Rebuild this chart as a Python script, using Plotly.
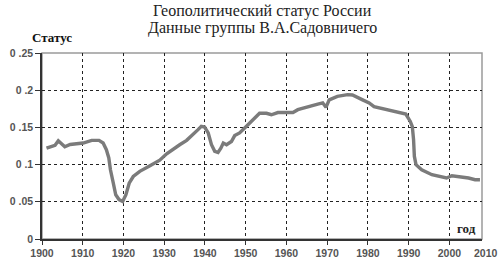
import plotly.graph_objects as go

# Data
years = [1901.1, 1902.4, 1903.2, 1904.0, 1904.8, 1905.6, 1906.9, 1910.1, 1912.2, 1914.0,
         1915.0, 1915.8, 1916.4, 1916.8, 1917.5, 1918.1, 1918.9, 1919.8, 1920.6, 1921.4,
         1922.4, 1924.0, 1926.5, 1928.9, 1930.6, 1932.2, 1933.8, 1935.5, 1937.1, 1938.3,
         1939.1, 1939.9, 1940.8, 1941.6, 1942.4, 1943.2, 1943.9, 1944.5, 1945.3, 1946.5,
         1947.3, 1948.5, 1950.0, 1951.4, 1953.4, 1955.1, 1956.3, 1957.9, 1961.6, 1962.8,
         1965.2, 1967.7, 1968.9, 1969.7, 1970.5, 1972.5, 1975.0, 1976.2, 1978.7, 1980.3,
         1981.5, 1984.0, 1987.3, 1989.3, 1990.4, 1990.9, 1991.2, 1991.4, 1991.8, 1993.2,
         1995.7, 1997.7, 1999.3, 2000.6, 2002.2, 2004.7, 2006.3, 2007.5]
status = [0.122, 0.125, 0.126, 0.132, 0.128, 0.124, 0.127, 0.129, 0.1326, 0.1326,
          0.129, 0.120, 0.109, 0.093, 0.075, 0.0595, 0.053, 0.0505, 0.0595, 0.075,
          0.084, 0.091, 0.0985, 0.106, 0.1146, 0.120, 0.1267, 0.1326, 0.140, 0.147,
          0.1514, 0.1505, 0.1425, 0.1267, 0.1178, 0.1164, 0.122, 0.129, 0.1267, 0.131,
          0.139, 0.1425, 0.1505, 0.158, 0.169, 0.169, 0.167, 0.170, 0.170, 0.1738,
          0.178, 0.1814, 0.183, 0.177, 0.187, 0.1917, 0.194, 0.1935, 0.187, 0.183,
          0.178, 0.1747, 0.170, 0.168, 0.158, 0.151, 0.1335, 0.111, 0.0999, 0.093,
          0.0864, 0.0833, 0.082, 0.085, 0.084, 0.082, 0.0797, 0.0797]

y_ticks = [0, 0.05, 0.1, 0.15, 0.2, 0.25]
y_tick_labels = ["0", "0 .05", "0 .1", "0 .15", "0 .2", "0 .25"]
x_ticks = [1900, 1910, 1920, 1930, 1940, 1950, 1960, 1970, 1980, 1990, 2000]
x_tick_labels = ["1900", "1910", "1920", "1930", "1940", "1950", "1960", "1970", "1980", "1990", "2000"]
extra_x_label = "2010"

title_lines = ["Геополитический статус России", "Данные группы В.А.Садовничего"]
y_title = "Статус"
x_title = "год"

fig = go.Figure()
fig.add_trace(go.Scatter(x=years, y=status, mode="lines",
                         line=dict(color="#7b7b7b", width=3.4),
                         hoverinfo="skip", showlegend=False))

tick_font = dict(family="Liberation Sans, Arial", size=10.5, color="#555555")
grid_kw = dict(showgrid=True, gridcolor="#222222", gridwidth=1, griddash="3px,3px")


def bold(labels):
    return ["<b>" + t + "</b>" for t in labels]


fig.update_xaxes(range=[1900, 2008], tickmode="array", tickvals=x_ticks, ticktext=bold(x_tick_labels),
                 tickfont=tick_font, ticks="outside", ticklen=4, tickcolor="#333333",
                 showline=True, linecolor="#333333", linewidth=1.5, zeroline=False,
                 automargin=False, **grid_kw)
fig.update_yaxes(range=[0, 0.25], tickmode="array", tickvals=y_ticks, ticktext=bold(y_tick_labels),
                 tickfont=tick_font, ticks="outside", ticklen=5, tickcolor="#333333",
                 showline=True, linecolor="#333333", linewidth=1.5, zeroline=False,
                 automargin=False, **grid_kw)

fig.add_shape(type="rect", xref="paper", yref="paper", x0=0, y0=0, x1=1, y1=1,
              line=dict(color="#9a9a9a", width=1.5), layer="below")

serif = "Liberation Serif, Times New Roman, serif"
fig.add_annotation(xref="paper", yref="paper", x=0.502, y=1, yshift=42, xanchor="center", yanchor="middle",
                   text=title_lines[0], showarrow=False, font=dict(family=serif, size=16, color="#222222"))
fig.add_annotation(xref="paper", yref="paper", x=0.502, y=1, yshift=25, xanchor="center", yanchor="middle",
                   text=title_lines[1], showarrow=False, font=dict(family=serif, size=16, color="#222222"))
fig.add_annotation(xref="paper", yref="paper", x=-0.028, y=1, yshift=16, xanchor="left", yanchor="middle",
                   text="<b>" + y_title + "</b>", showarrow=False, font=dict(family=serif, size=13, color="#111111"))
fig.add_annotation(xref="x", yref="y", x=2007, y=0.0135, xanchor="right", yanchor="middle",
                   text="<b>" + x_title + "</b>", showarrow=False, bgcolor="white",
                   font=dict(family=serif, size=13, color="#222222"))
fig.add_annotation(xref="paper", yref="paper", x=(486 - 42) / 440, y=0, yshift=-14,
                   xanchor="center", yanchor="middle", text="<b>" + extra_x_label + "</b>", showarrow=False,
                   font=tick_font)

fig.update_layout(width=500, height=260, margin=dict(l=42, r=18, t=53, b=21),
                  paper_bgcolor="white", plot_bgcolor="white")

fig.write_html("out.html")
